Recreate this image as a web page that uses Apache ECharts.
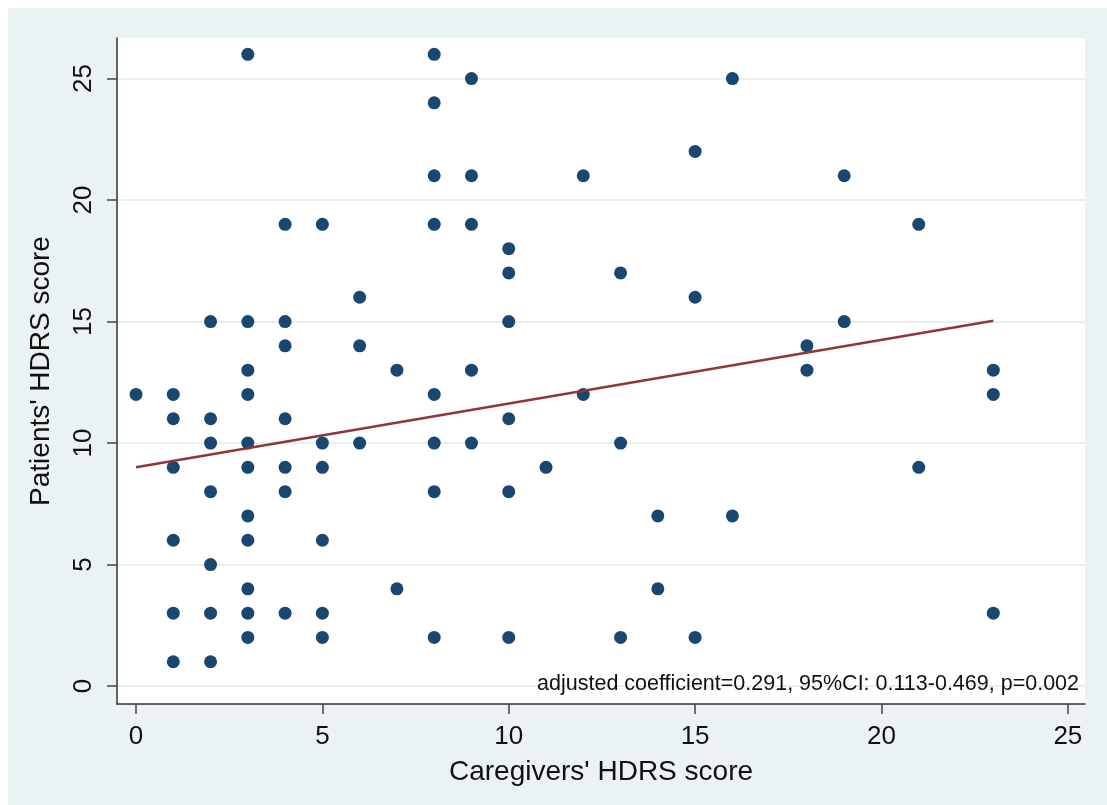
<!DOCTYPE html>
<html>
<head>
<meta charset="utf-8">
<script src="https://cdn.jsdelivr.net/npm/echarts@6/dist/echarts.min.js"></script>
<style>
html,body{margin:0;padding:0;background:#fff;}
#chart{width:1107px;height:805px;}
</style>
</head>
<body>
<div id="chart"></div>
<script>
// Caregivers' HDRS score (x) and Patients' HDRS score (y), one entry per subject
const caregiverScore = [
  0,
  1,1,1,1,1,1,
  2,2,2,2,2,2,2,
  3,3,3,3,3,3,3,3,3,3,3,
  4,4,4,4,4,4,4,
  5,5,5,5,5,5,
  6,6,6,
  7,7,
  8,8,8,8,8,8,8,8,
  9,9,9,9,9,
  10,10,10,10,10,10,
  11,
  12,12,
  13,13,13,
  14,14,
  15,15,15,
  16,16,
  18,18,
  19,19,
  21,21,
  23,23,23
];
const patientScore = [
  12,
  12,11,9,6,3,1,
  15,11,10,8,5,3,1,
  26,15,13,12,10,9,7,6,4,3,2,
  19,15,14,11,9,8,3,
  19,10,9,6,3,2,
  16,14,10,
  13,4,
  26,24,21,19,12,10,8,2,
  25,21,19,13,10,
  18,17,15,11,8,2,
  9,
  21,12,
  17,10,2,
  7,4,
  22,16,2,
  25,7,
  14,13,
  21,15,
  19,9,
  13,12,3
];
// fitted line end points
const fitX = [0, 23];
const fitY = [9.0, 15.03];
// tick labels
const xTicks = [0, 5, 10, 15, 20, 25];
const yTicks = [0, 5, 10, 15, 20, 25];
const xTitle = "Caregivers' HDRS score";
const yTitle = "Patients' HDRS score";
const noteText = "adjusted coefficient=0.291, 95%CI: 0.113-0.469, p=0.002";

const points = caregiverScore.map((v, i) => [v, patientScore[i]]);
const fitLine = fitX.map((v, i) => [v, fitY[i]]);

const FONT = 'Liberation Sans, Arial, sans-serif';
const chart = echarts.init(document.getElementById('chart'), null, {renderer: 'canvas'});
chart.setOption({
  backgroundColor: '#ffffff',
  animation: false,
  graphic: [
    {type: 'rect', left: 8, top: 8, shape: {width: 1099, height: 797}, style: {fill: '#EAF2F3'}, z: -10},
    {type: 'text', right: 28, top: 673, z: 100,
     style: {text: noteText, font: '21.5px ' + FONT, fill: '#111'}}
  ],
  grid: {left: 117, top: 38, right: 22, bottom: 101, show: true, backgroundColor: '#ffffff', borderWidth: 0},
  xAxis: {
    type: 'value', min: -0.51, max: 25.46,
    name: xTitle, nameLocation: 'middle', nameGap: 54,
    nameTextStyle: {fontSize: 28, fontFamily: FONT, color: '#111'},
    axisLine: {show: true, onZero: false, lineStyle: {color: '#333', width: 1.5}},
    axisTick: {show: true, customValues: xTicks, length: 10, lineStyle: {color: '#444', width: 1.5}},
    axisLabel: {customValues: xTicks, fontSize: 26, fontFamily: FONT, color: '#111', margin: 20},
    splitLine: {show: false}
  },
  yAxis: {
    type: 'value', min: -0.74, max: 26.67,
    name: yTitle, nameLocation: 'middle', nameGap: 62, nameRotate: 90,
    nameTextStyle: {fontSize: 28, fontFamily: FONT, color: '#111'},
    axisLine: {show: true, onZero: false, lineStyle: {color: '#333', width: 1.5}},
    axisTick: {show: true, customValues: yTicks, length: 10, lineStyle: {color: '#444', width: 1.5}},
    axisLabel: {customValues: yTicks, rotate: 90, fontSize: 26, fontFamily: FONT, color: '#111', margin: 20},
    splitLine: {show: true, lineStyle: {color: '#E6EFF1', width: 2}}
  },
  series: [
    {type: 'scatter', data: points, symbol: 'circle', symbolSize: 13,
     itemStyle: {color: '#1A476F', opacity: 1}, z: 2},
    {type: 'line', data: fitLine, symbol: 'none', z: 3,
     lineStyle: {color: '#90353B', width: 2.5}}
  ]
});
</script>
</body>
</html>
